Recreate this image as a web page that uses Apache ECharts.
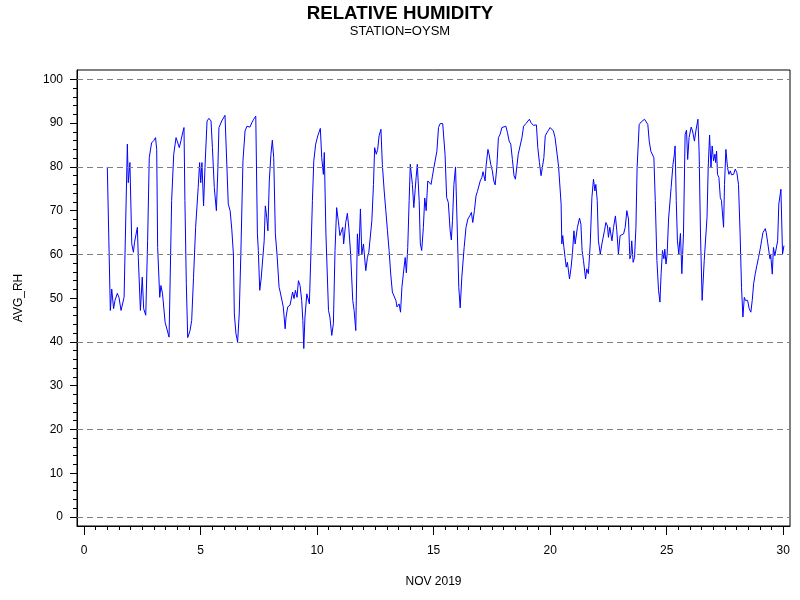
<!DOCTYPE html>
<html>
<head>
<meta charset="utf-8">
<script src="https://cdn.jsdelivr.net/npm/echarts@6/dist/echarts.min.js"></script>
<style>
  html, body { margin: 0; padding: 0; background: #fff; }
  #rh-line { width: 800px; height: 600px; }
</style>
</head>
<body>
<div id="rh-line"></div>
<script>
// hourly-ish readings, day of month (NOV 2019) and AVG_RH
var days = [
  1.00,1.13,1.19,1.27,1.33,1.43,1.50,1.59,1.64,1.72,1.86,1.90,1.97,2.05,2.12,2.17,2.23,2.29,2.33,2.42,
  2.50,2.56,2.65,2.73,2.80,2.90,2.99,3.07,3.12,3.16,3.25,3.30,3.37,3.48,3.65,3.76,3.85,3.95,4.02,4.09,
  4.16,4.22,4.29,4.33,4.39,4.45,4.55,4.62,4.70,4.79,4.90,4.96,5.01,5.06,5.13,5.19,5.28,5.36,5.45,5.51,
  5.59,5.68,5.74,5.79,5.91,6.05,6.11,6.19,6.27,6.34,6.41,6.45,6.52,6.59,6.66,6.73,6.82,6.91,6.99,7.05,
  7.12,7.20,7.28,7.37,7.44,7.48,7.54,7.60,7.65,7.73,7.78,7.84,7.89,7.95,8.02,8.08,8.14,8.21,8.28,8.37,
  8.42,8.49,8.55,8.63,8.67,8.74,8.84,8.91,8.95,9.01,9.07,9.14,9.20,9.27,9.34,9.39,9.43,9.48,9.56,9.63,
  9.67,9.74,9.80,9.86,9.94,10.03,10.14,10.20,10.27,10.31,10.38,10.49,10.55,10.63,10.70,10.77,10.84,10.91,10.98,11.06,
  11.10,11.14,11.23,11.30,11.36,11.44,11.53,11.59,11.66,11.73,11.79,11.86,11.92,11.99,12.09,12.16,12.22,12.29,12.35,12.42,
  12.47,12.54,12.60,12.66,12.74,12.80,12.88,12.95,13.02,13.09,13.16,13.23,13.30,13.38,13.43,13.52,13.58,13.64,13.70,13.78,
  13.83,13.89,13.95,14.00,14.09,14.15,14.21,14.25,14.30,14.38,14.43,14.49,14.56,14.62,14.68,14.75,14.82,14.89,14.95,15.01,
  15.06,15.14,15.21,15.28,15.32,15.39,15.49,15.56,15.63,15.71,15.76,15.81,15.87,15.94,16.02,16.08,16.14,16.21,16.31,16.39,
  16.47,16.55,16.62,16.68,16.75,16.82,16.88,16.92,17.00,17.07,17.12,17.21,17.25,17.33,17.38,17.45,17.52,17.58,17.64,17.71,
  17.78,17.85,17.93,18.00,18.10,18.17,18.24,18.31,18.38,18.45,18.51,18.57,18.63,18.68,18.79,18.86,18.96,19.04,19.11,19.18,
  19.28,19.36,19.41,19.47,19.54,19.61,19.67,19.73,19.79,19.86,19.93,20.00,20.07,20.14,20.21,20.29,20.36,20.43,20.47,20.50,
  20.54,20.59,20.64,20.69,20.74,20.83,20.90,20.96,21.02,21.07,21.12,21.17,21.26,21.32,21.37,21.43,21.52,21.57,21.64,21.72,
  21.79,21.86,21.92,21.96,22.02,22.07,22.15,22.22,22.27,22.33,22.39,22.46,22.50,22.56,22.65,22.72,22.76,22.80,22.86,22.93,
  23.00,23.08,23.15,23.22,23.29,23.36,23.42,23.46,23.50,23.56,23.62,23.68,23.73,23.82,23.91,23.98,24.05,24.12,24.19,24.25,
  24.32,24.39,24.45,24.51,24.58,24.65,24.71,24.76,24.82,24.88,24.92,24.97,25.02,25.08,25.14,25.19,25.27,25.32,25.36,25.41,
  25.46,25.52,25.56,25.59,25.65,25.72,25.79,25.85,25.90,25.96,26.05,26.11,26.19,26.25,26.34,26.39,26.45,26.52,26.61,26.67,
  26.73,26.78,26.84,26.90,26.95,27.01,27.07,27.10,27.14,27.18,27.24,27.30,27.35,27.44,27.48,27.54,27.61,27.67,27.73,27.78,
  27.87,27.94,28.01,28.08,28.15,28.21,28.27,28.33,28.38,28.47,28.54,28.61,28.67,28.73,28.80,28.87,28.94,29.01,29.07,29.13,
  29.17,29.23,29.27,29.33,29.39,29.43,29.46,29.53,29.58,29.64,29.70,29.76,29.81,29.90,29.97,30.03
];
var rh = [
  80,47.2,52.1,47.6,49.5,51.1,50.2,47.2,46.8,50.2,85.2,76.4,81,62.4,60.5,62.8,63.1,66.2,59.3,47.2,
  54.8,47.6,46.1,63.1,82.1,85.5,86,86.7,84,61.6,50.2,52.9,51,44.5,41.1,72.3,82.9,86.7,87.1,84.4,
  86,87.5,89,72.3,53.3,41,42.6,44.9,54.8,66.2,75.3,81,76.4,81,71.1,79.8,90.5,91.1,90.5,84.4,
  75.3,70,79,89,90.5,91.8,92,71.5,70,65.8,60.1,46.4,41.9,40,46.4,60.1,81.4,88.2,89.3,89.7,
  89.1,90.1,90.9,91.6,64.7,60.9,51.8,54.4,54,63.1,71.1,68.5,65.4,76.8,82.9,86.1,82.1,64.7,60.1,52.5,
  51.4,51.4,48,43,45.7,48,48.4,48,51.4,49.9,51.8,50.2,54,52.9,49.5,44.9,38.5,45.7,51,51.4,
  48.7,60.9,72.3,81.4,85.2,87.1,88.8,82.1,78.3,83.3,64.7,47.2,45.7,41.5,44.2,60.9,70.7,67.7,64.3,63.9,
  66.2,62.4,67.3,69.4,66.2,60.1,49.5,47.2,42.6,64.7,59.7,70.4,60.1,62.4,56.3,59.3,60.5,60.9,67.7,76,
  84.4,82.9,84,87.1,88.6,80.6,74.5,70,65.4,60.9,55.5,51.4,51,49.5,48,48.7,46.8,52.5,55.5,59.3,
  55.8,61.6,72.3,80.6,76,70.7,74.9,77.6,80.6,72.3,62.4,60.9,66.2,72.9,70,76.8,77.2,76,77.9,79.8,
  80.2,83.6,89,89.9,89.6,89.9,82.9,73,71.9,65.4,63.3,67.7,76,80,64.7,52.5,47.8,54.8,61.6,66.2,
  68.1,68.8,69.6,67.3,70,73.4,74.4,74.2,76.8,77.6,78.9,76.8,80.2,84,82.9,80.6,79.1,76.8,75.9,79.8,
  86.7,87.4,89,89.3,89.3,87.8,85.9,85.2,81.7,78,77.2,77.6,82.9,83.3,86.7,89.3,89.9,90.3,90.9,90.1,
  89.5,89.9,89.6,84.4,81,78,78.2,82.1,87.1,87.8,88.4,89,89.2,88.2,86.7,87.1,80.2,79.8,71.5,62.4,
  64.3,61.6,59.3,57.1,58.2,54.4,57.1,60.5,65.4,62.4,62.8,66.2,68.3,66.9,60.9,58.6,54.4,56.7,55.6,62.4,
  73,77.2,74.5,76,72.3,63.1,60.1,62.4,62,65.4,67.3,66.5,63.9,66.2,63.1,66.2,66.3,68.8,65.4,60.1,
  64.3,64.3,64.7,66.2,70,68.1,59,59.7,63.1,58.2,59.3,66.2,79.8,89.7,90.3,90.6,90.9,91.2,89.7,85.9,
  83.6,83.8,82.1,72.3,58.6,51.8,49.1,55.6,60.9,59,61.2,57.8,60.1,68.1,68.5,75.3,80.6,82.5,84.8,72.3,
  63.1,60.1,63.1,64.8,55.6,64.7,87.4,88.4,81.7,86.7,89.1,88.2,85.9,88.2,90.9,83.6,64.7,49.5,58.6,58.6,
  68.5,79.8,87.3,79.8,84.8,81.4,82.9,81,83.6,78.3,77.6,73,72.3,66.2,76,84,79.8,78.3,79.1,78.2,
  78.3,79.5,78.7,76,64.7,52.5,45.7,50.2,49.5,49.5,47.6,46.8,49.5,53.3,55.6,57.5,59.3,61.2,63.1,65,
  64.7,65.9,65,62.8,62.4,59,60.1,55.5,61.6,59.7,60.1,63.1,71.5,74.9,60.1,62
];
var xLabels = [0, 5, 10, 15, 20, 25, 30];
var yLabels = [0, 10, 20, 30, 40, 50, 60, 70, 80, 90, 100];
var refLines = [0, 20, 40, 60, 80, 100];

function Draw_rh_line(){
    var myChart = echarts.init(document.getElementById('rh-line'));
    var lineData = [];
    for(var i=0;i<days.length;i++){
        lineData.push([days[i], rh[i]]);
    }
    var xMinor = [];
    for(var i=0;i<=60;i++){
        if(i % 10 != 0) xMinor.push(i/2);
    }
    var yMinor = [];
    for(var i=0;i<=100;i+=2){
        if(i % 10 != 0) yMinor.push(i);
    }
    var marks = [];
    for(var i=0;i<refLines.length;i++){
        marks.push({yAxis: refLines[i]});
    }
    var font = 'Liberation Sans, Arial, sans-serif';
    var option = {
        animation: false,
        title: [
            {
                text: 'RELATIVE HUMIDITY',
                left: 'center',
                top: -1,
                textStyle: {fontSize: 18.7, fontWeight: 'bold', color: '#000', fontFamily: font}
            },
            {
                text: 'STATION=OYSM',
                left: 'center',
                top: 20,
                textStyle: {fontSize: 13, fontWeight: 'normal', color: '#000', fontFamily: font}
            }
        ],
        grid: {
            left: 77, right: 10, top: 70, bottom: 74,
            show: true, borderColor: '#000', borderWidth: 1
        },
        xAxis: [
            {
                type: 'value', min: -0.3, max: 30.29, position: 'bottom',
                name: 'NOV 2019', nameLocation: 'middle', nameGap: 50,
                nameTextStyle: {fontSize: 12, color: '#000', fontFamily: font},
                axisLine: {show: true, onZero: false, lineStyle: {color: '#000'}},
                axisTick: {show: true, length: 9, customValues: xLabels, lineStyle: {color: '#000'}},
                axisLabel: {customValues: xLabels, margin: 19, fontSize: 12, color: '#000', fontFamily: font},
                splitLine: {show: false}
            },
            {
                type: 'value', min: -0.3, max: 30.29, position: 'bottom',
                axisLine: {show: false, onZero: false},
                axisTick: {show: true, length: 4, customValues: xMinor, lineStyle: {color: '#000'}},
                axisLabel: {show: false},
                splitLine: {show: false}
            }
        ],
        yAxis: [
            {
                type: 'value', min: -2.06, max: 102.15, position: 'left',
                name: 'AVG_RH', nameLocation: 'middle', nameGap: 52,
                nameTextStyle: {fontSize: 12, color: '#000', fontFamily: font},
                axisLine: {show: true, onZero: false, lineStyle: {color: '#000'}},
                axisTick: {show: true, length: 7, customValues: yLabels, lineStyle: {color: '#000'}},
                axisLabel: {customValues: yLabels, margin: 14, fontSize: 12, color: '#000', fontFamily: font},
                splitLine: {show: false}
            },
            {
                type: 'value', min: -2.06, max: 102.15, position: 'left',
                axisLine: {show: false, onZero: false},
                axisTick: {show: true, length: 4, customValues: yMinor, lineStyle: {color: '#000'}},
                axisLabel: {show: false},
                splitLine: {show: false}
            }
        ],
        series: [
            {
                name: 'AVG_RH',
                type: 'line',
                xAxisIndex: 0,
                yAxisIndex: 0,
                data: lineData,
                showSymbol: false,
                symbol: 'none',
                lineStyle: {color: '#0000ff', width: 1},
                markLine: {
                    silent: true,
                    symbol: 'none',
                    label: {show: false},
                    lineStyle: {color: '#808080', type: [6, 4], width: 1},
                    data: marks
                }
            }
        ]
    };
    myChart.setOption(option);
}

Draw_rh_line();
</script>
</body>
</html>
